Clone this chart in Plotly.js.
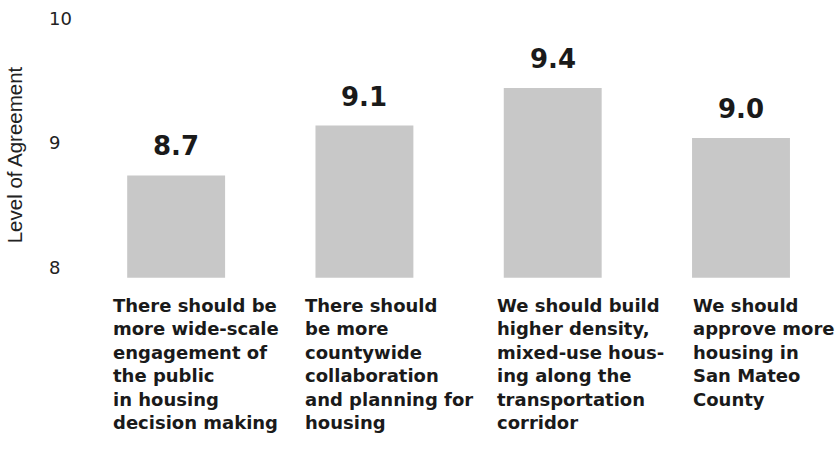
<!DOCTYPE html>
<html>
<head>
<meta charset="utf-8">
<script src="https://cdn.plot.ly/plotly-3.0.1.min.js"></script>
<style>
  html, body { margin: 0; padding: 0; background: #ffffff; }
  #chart { width: 839px; height: 457px; }
</style>
</head>
<body>
<div id="chart"></div>
<script>
// ---- data ----
const categories = [
  "There should be<br>more wide-scale<br>engagement of<br>the public<br>in housing<br>decision making",
  "There should<br>be more<br>countywide<br>collaboration<br>and planning for<br>housing",
  "We should build<br>higher density,<br>mixed-use hous-<br>ing along the<br>transportation<br>corridor",
  "We should<br>approve more<br>housing in<br>San Mateo<br>County"
];
const values = [8.7, 9.1, 9.4, 9.0];
const valueLabels = ["8.7", "9.1", "9.4", "9.0"];
const tickValues = [8, 9, 10];
const tickLabels = ["8\u00a0\u00a0", "9\u00a0\u00a0", "10"];
const barBase = 7.88;

// ---- layout helpers (style only) ----
const labelShifts = [-65, -61, -58, -50];

const ids = categories.map((c, i) => "c" + i);

const trace = {
  type: "bar",
  x: ids,
  y: values.map(v => v - barBase),
  base: barBase,
  marker: { color: "#c8c8c8", line: { width: 0 } },
  hoverinfo: "skip"
};

const annotations = [];
values.forEach((v, i) => {
  annotations.push({
    x: ids[i], y: v, xref: "x", yref: "y",
    text: valueLabels[i], showarrow: false,
    xanchor: "center", yanchor: "bottom", yshift: 12,
    font: { family: "DejaVu Sans", size: 26, color: "#1a1a1a", weight: "bold" }
  });
  annotations.push({
    x: ids[i], y: 0, xref: "x", yref: "paper",
    text: categories[i], showarrow: false,
    align: "left", xanchor: "left", yanchor: "top",
    xshift: labelShifts[i], yshift: 7,
    font: { family: "DejaVu Sans", size: 18, color: "#1a1a1a", weight: "bold" }
  });
});

const layout = {
  width: 839, height: 457,
  margin: { l: 82, r: 2, t: 10, b: 157 },
  paper_bgcolor: "#ffffff",
  plot_bgcolor: "#ffffff",
  showlegend: false,
  bargap: 0.48,
  xaxis: {
    type: "category",
    showticklabels: false, showgrid: false, zeroline: false, showline: false, ticks: ""
  },
  yaxis: {
    range: [7.701, 10.026],
    tickvals: tickValues, ticktext: tickLabels,
    showgrid: false, zeroline: false, showline: false, ticks: "",
    ticklabelstandoff: 9,
    ticklabelshift: 5,
    tickfont: { family: "DejaVu Sans", size: 18, color: "#222222" },
    title: { text: "Level of Agreement", standoff: 20,
             font: { family: "Liberation Sans", size: 20.5, color: "#222222" } }
  },
  annotations: annotations
};

Plotly.newPlot("chart", [trace], layout, { displayModeBar: false, staticPlot: true });
</script>
</body>
</html>
